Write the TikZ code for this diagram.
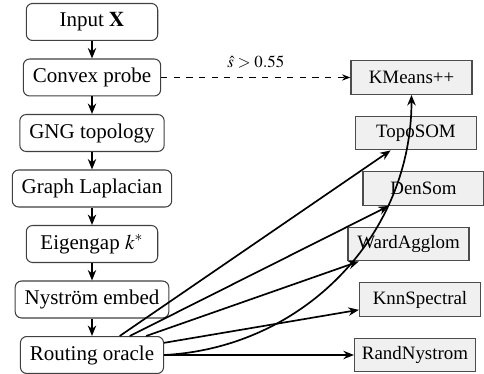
\documentclass[tikz,border=0pt]{standalone}
\usepackage{mathptmx}
\usepackage{fontspec}
\setmainfont{Liberation Serif}
\usetikzlibrary{arrows.meta}
\tikzset{
  stage/.style={draw=black!75, line width=0.5pt, rounded corners=3pt, fill=white,
    minimum width=2.2cm, minimum height=17.6pt, inner xsep=4.5pt}, % pipeline step
  method/.style={draw=black!70, line width=0.6pt, fill=gray!12, font=\small,
    minimum width=57.6pt, minimum height=16pt}, % clustering backend
  link/.style={-{Stealth[length=5pt,width=4pt]}, thick}, % a plain arrow
  shortcut/.style={-{Stealth[length=4pt,width=3pt]}, dashed, thin}
}

\begin{document}
\begin{tikzpicture}[x=0.4762pt, y=0.4762pt, node distance=26.43pt,
    every edge/.style={draw, link}]
  \useasboundingbox (0,0) rectangle (484,374);

  % Pipeline
  \node[stage] (input) at (92,352) {Input $\mathbf{X}$};
  \node[stage, below of=input] (convex) {Convex probe};
  \node[stage, below of=convex] (gng) {GNG topology};
  \node[stage, below of=gng] (laplace) {Graph Laplacian};
  \node[stage, below of=laplace] (eigengap) {Eigengap $k^{*}$};
  \node[stage, below of=eigengap] (nystrom) {Nyström embed};
  \node[stage, below of=nystrom] (route) {Routing oracle};

  % Backends
  \node[method] (kmeans) at (411.5,0 |- convex) {KMeans++};
  \node[method] (toposom) at (416,0 |- gng) {TopoSOM};
  \node[method] (densom) at (423.5,0 |- laplace) {DenSom};
  \node[method] (ward) at (408.5,0 |- eigengap) {WardAgglom};
  \node[method] (knn) at (420,0 |- nystrom) {KnnSpectral};
  \node[method] (rand) at (415,0 |- route) {RandNystrom};

  % Connect
  \path (input) edge (convex)
        (convex) edge (gng)
        (gng) edge (laplace)
        (laplace) edge (eigengap)
        (eigengap) edge (nystrom)
        (nystrom) edge (route);

  \draw[shortcut] (convex) -- node[above, yshift=1pt, font=\footnotesize] {$\hat{s} > 0.55$} (kmeans);

  \path (route) edge (toposom)
        (route) edge (densom)
        (route) edge (ward)
        (route) edge (knn)
        (route) edge (rand)
        (route.east) edge[out=3, in=-90] (kmeans.south);
\end{tikzpicture}
\end{document}
